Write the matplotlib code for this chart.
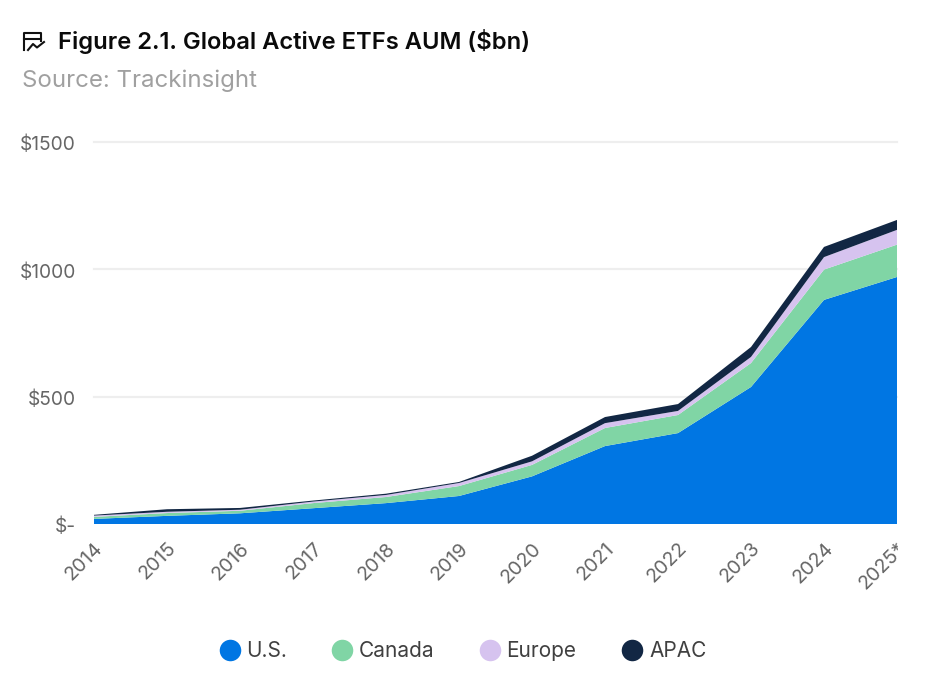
import matplotlib.pyplot as plt
from matplotlib.lines import Line2D
from matplotlib.transforms import Bbox, ScaledTranslation

years = ['2014', '2015', '2016', '2017', '2018', '2019', '2020', '2021', '2022', '2023', '2024', '2025*']
us = [20, 32, 42, 62, 82, 110, 187, 306, 357, 538, 880, 970]
canada = [8, 11, 10, 20, 24, 39, 45, 71, 71, 94, 119, 127]
europe = [5, 5, 4, 6, 8, 12, 14, 19, 16, 24, 49, 58]
apac = [3, 10, 7, 4, 5, 4, 22, 24, 27, 39, 40, 39]
series_names = ['U.S.', 'Canada', 'Europe', 'APAC']
colors = ['#0076E3', '#80D5A5', '#D6C3EF', '#122744']
yticks = [0, 500, 1000, 1500]
ytick_labels = ['$-', '$500', '$1000', '$1500']

W, H = 925, 679
plt.rcParams['font.family'] = ['Inter', 'DejaVu Sans']

fig = plt.figure(figsize=(W / 100, H / 100), dpi=100)
ax = fig.add_axes([94 / W, 1 - 524 / H, (897 - 94) / W, (524 - 142) / H])

x = list(range(len(years)))
ax.stackplot(x, us, canada, europe, apac, colors=colors, linewidth=0, zorder=3)
ax.set_xlim(0, len(years) - 1)
ax.set_ylim(0, 1500)

# Grid lines only, no frame
for spine in ax.spines.values():
    spine.set_visible(False)
ax.set_yticks(yticks)
ax.set_yticklabels(ytick_labels, fontsize=13.8, color='#666666')
ax.set_xticks(x)
ax.set_xticklabels(years, fontsize=14.2, color='#666666', rotation=45, ha='right',
                   va='top', rotation_mode='anchor')
ax.tick_params(axis='y', length=0, pad=13)
ax.tick_params(axis='x', length=0, pad=11)
for y in yticks[1:]:
    ax.axhline(y, color='#EEEEEE', linewidth=1.6, zorder=1, clip_on=False)

# y labels sit one pixel lower
for label in ax.get_yticklabels():
    label.set_transform(label.get_transform() + ScaledTranslation(0, -1 / 100, fig.dpi_scale_trans))

# The last x label is cut off at the right edge of the plot
last_label = ax.get_xticklabels()[-1]
last_label.set_clip_box(Bbox([[0, 0], [898, H]]))
last_label.set_clip_on(True)

# Title and source
fig.text(58 / W, 1 - 42 / H, 'Figure 2.1. Global Active ETFs AUM ($bn)', fontsize=17.1,
         fontweight='semibold', color='#0A0A0A', va='center')
fig.text(22 / W, 1 - 81 / H, 'Source: Trackinsight', fontsize=17.3, color='#A0A0A0', va='center')

# Chart icon next to the title
def px_line(xs, ys, lw=1.5):
    fig.add_artist(Line2D([v / W for v in xs], [1 - v / H for v in ys], color='#111111',
                          linewidth=lw, solid_joinstyle='round'))

px_line([24, 24, 41, 41], [50, 33, 33, 41])
px_line([24, 41], [38.5, 38.5])
px_line([28, 33, 37, 44], [50, 44, 47.5, 42])

# Legend
legend_x = [230, 342, 490, 632]
legend_text_x = [246, 359, 506, 649]
for lx, tx, name, c in zip(legend_x, legend_text_x, series_names, colors):
    fig.add_artist(Line2D([lx / W], [1 - 650 / H], marker='o', markersize=15.5, color=c,
                          markeredgewidth=0, linestyle='none'))
    fig.text(tx / W, 1 - 651 / H, name, fontsize=15, color='#404040', va='center')

fig.savefig('out.png', dpi=100)
